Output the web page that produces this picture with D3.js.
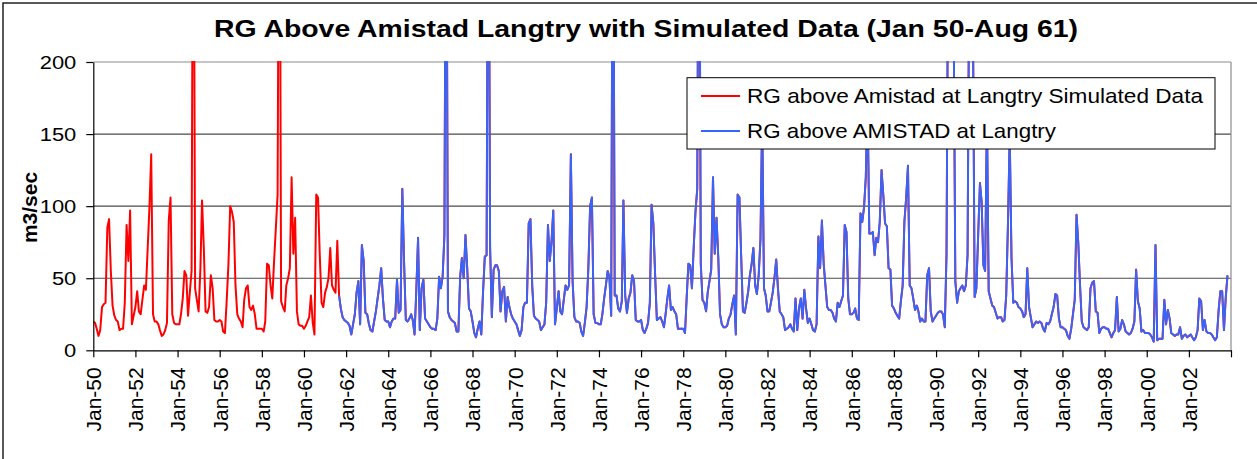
<!DOCTYPE html>
<html>
<head>
<meta charset="utf-8">
<script src="https://cdn.jsdelivr.net/npm/d3@7"></script>
<style>
    body { margin: 0; background: #fff; }
    svg { font-family: "Liberation Sans", Arial, sans-serif; }
</style>
</head>
<body>
<svg width="1257" height="459"></svg>
<script>
// monthly flows, m3/sec. simulated: Jan 1950 - Aug 1961
const simulated = [
    20,19,15,10,14,30,32,33,85,91,55,31,
    24,21,20,14,15,15,33,87,62,97,18,24,
    30,41,27,25,35,45,42,71,100,136,25,20,
    20,18,14,10,11,14,19,90,106,25,19,18,
    18,18,25,36,55,52,24,40,55,420,43,35,
    27,57,104,71,27,26,30,52,43,21,20,20,
    21,20,13,12,34,60,100,96,89,45,25,22,
    20,16,35,43,45,30,28,31,25,15,15,15,
    15,13,20,60,59,45,36,62,85,108,420,34,
    30,27,45,50,57,120,67,92,27,18,17,17,
    15,17,20,23,38,19,11,108,106,66,33,30,
    40,44,50,71,45,42,40,76
];
// observed: Sep 1961 - Nov 2003
const observed = [
    38,29,23,21,
    20,19,17,11,18,25,40,48,18,73,62,26,
    25,18,14,13,20,27,36,45,57,36,21,20,
    20,16,20,22,22,49,26,28,112,62,21,20,
    22,25,21,11,41,78,14,43,49,22,20,18,
    16,15,15,14,22,51,43,51,80,400,27,23,
    21,20,19,13,13,51,64,50,80,57,29,27,
    20,12,9,15,20,11,40,65,66,400,71,23,
    56,59,59,55,27,41,44,20,37,30,25,22,
    20,18,14,10,14,30,33,33,88,91,45,24,
    22,21,20,14,16,18,33,87,62,75,97,18,
    29,41,27,25,35,45,42,45,136,48,23,20,
    20,19,13,10,19,30,57,100,106,25,19,19,
    18,18,25,36,45,55,51,24,400,38,38,29,
    27,34,104,38,26,36,40,52,48,21,20,20,
    21,14,12,15,19,33,101,88,52,21,22,23,
    20,16,25,36,45,28,30,27,25,15,15,15,
    15,12,36,60,59,43,71,96,112,400,60,35,
    33,27,40,48,56,120,67,92,64,25,18,16,
    16,17,22,25,32,38,11,108,106,66,27,26,
    33,41,52,60,71,45,39,52,77,165,43,38,
    27,27,33,40,50,63,43,27,25,23,14,15,
    16,18,15,13,36,14,29,36,22,42,29,19,
    22,18,14,13,18,79,57,90,60,45,30,28,
    28,26,22,20,33,30,34,38,87,82,36,25,
    25,26,29,22,21,95,89,99,120,175,81,81,
    82,66,78,75,89,125,108,88,86,57,56,31,
    29,26,24,22,34,45,89,106,128,45,43,36,
    28,31,27,20,22,20,20,52,57,27,20,22,
    24,26,27,27,25,16,66,300,260,280,240,48,
    33,41,43,45,41,45,66,280,300,240,37,43,
    80,116,103,59,55,165,41,36,31,30,26,22,
    23,23,20,21,38,89,150,64,33,34,33,30,
    29,27,23,25,57,30,23,16,18,20,19,20,
    19,15,13,19,18,20,25,30,39,38,22,16,
    16,15,14,10,8,15,25,35,94,75,45,20,
    16,15,14,16,43,47,48,27,26,12,15,16,
    16,15,15,12,9,12,14,37,13,15,21,18,
    13,12,11,12,15,20,56,34,29,13,14,12,
    12,12,11,9,6,73,7,8,8,8,35,18,
    28,22,12,11,10,11,11,16,8,10,11,9,
    10,11,9,7,9,14,36,34,14,21,13,12,
    12,11,9,7,9,28,41,41,14,36,52
];
const yTicks = [0, 50, 100, 150, 200];
const tickYears = [1950,1952,1954,1956,1958,1960,1962,1964,1966,1968,1970,1972,1974,
                   1976,1978,1980,1982,1984,1986,1988,1990,1992,1994,1996,1998,2000,2002,2004];
const seriesNames = ["RG above Amistad at Langtry Simulated Data", "RG above AMISTAD at Langtry"];
const seriesColors = ["#ff0000", "#3366ff"];

var svg = d3.select("svg");
var plotLeft = 93.3, plotRight = 1231, plotTop = 62, plotBottom = 350.3;

// chart border
svg.append("rect").attr("x", 3).attr("y", 3).attr("width", 1270).attr("height", 480)
    .attr("fill", "#fff").attr("stroke", "#222").attr("stroke-width", 1.5);

var x = d3.scaleTime().domain([new Date(1950, 0, 1), new Date(2004, 0, 1)]).range([plotLeft, plotRight]);
var y = d3.scaleLinear().domain([0, 200]).range([plotBottom, plotTop]);

// gridlines
svg.append("g").selectAll("line")
    .data(yTicks.filter(d => d > 0)).enter().append("line")
    .attr("x1", plotLeft).attr("x2", plotRight)
    .attr("y1", d => y(d)).attr("y2", d => y(d))
    .attr("stroke", d => d == 200 ? "#8c8c8c" : "#4a4a4a").attr("stroke-width", 1.2);
svg.append("line").attr("x1", plotRight).attr("x2", plotRight).attr("y1", plotTop).attr("y2", plotBottom)
    .attr("stroke", "#8c8c8c").attr("stroke-width", 1.2);

// lines
svg.append("clipPath").attr("id", "plot").append("rect")
    .attr("x", plotLeft).attr("y", plotTop - 1)
    .attr("width", plotRight - plotLeft).attr("height", plotBottom - plotTop + 2);

var simAll = simulated.concat(observed);
var line = d3.line().x(d => x(d.date)).y(d => y(d.v));
var redPts = simAll.map((v, i) => ({date: new Date(1950, i, 1), v: v}));
var bluePts = observed.map((v, i) => ({date: new Date(1950, simulated.length + i, 1), v: v}));

var g = svg.append("g").attr("clip-path", "url(#plot)");
g.append("path").datum(redPts).attr("d", line)
    .attr("fill", "none").attr("stroke", seriesColors[0]).attr("stroke-width", 2)
    .attr("stroke-linejoin", "round");
g.append("path").datum(bluePts).attr("d", line)
    .attr("fill", "none").attr("stroke", seriesColors[1]).attr("stroke-width", 1.9)
    .attr("stroke-linejoin", "round");

// x axis
var xAxis = svg.append("g").attr("transform", "translate(0," + plotBottom + ")")
    .call(d3.axisBottom(x)
        .tickValues(tickYears.map(yr => new Date(yr, 0, 1)))
        .tickSize(7).tickSizeOuter(0)
        .tickFormat(d => d.getFullYear() == 2004 ? "" : d3.timeFormat("%b-%y")(d)));
xAxis.select(".domain").attr("stroke", "#000").attr("stroke-width", 1.2);
xAxis.selectAll(".tick line").attr("stroke", "#000").attr("stroke-width", 1.2);
xAxis.selectAll("text")
    .attr("transform", "rotate(-90)")
    .attr("text-anchor", "end")
    .attr("x", -17).attr("y", 0).attr("dy", "0.35em")
    .style("font-size", "21px").style("font-family", "Liberation Sans, Arial, sans-serif")
    .attr("fill", "#000");

// y axis
var yAxis = svg.append("g").attr("transform", "translate(" + plotLeft + ",0)")
    .call(d3.axisLeft(y).tickValues(yTicks).tickSize(7).tickSizeOuter(0).tickPadding(10));
yAxis.select(".domain").attr("stroke", "#000").attr("stroke-width", 1.2);
yAxis.selectAll(".tick line").attr("stroke", "#000").attr("stroke-width", 1.2);
yAxis.selectAll("text")
    .style("font-size", "19px").style("font-family", "Liberation Sans, Arial, sans-serif")
    .attr("fill", "#000")
    .attr("textLength", d => String(d).length * 12.2)
    .attr("lengthAdjust", "spacingAndGlyphs");

// title
svg.append("text").attr("x", 646).attr("y", 36.7)
    .attr("text-anchor", "middle")
    .style("font-size", "24px").style("font-weight", "bold")
    .attr("textLength", 864).attr("lengthAdjust", "spacingAndGlyphs")
    .text("RG Above Amistad Langtry with Simulated Data (Jan 50-Aug 61)");

// y label
svg.append("text")
    .attr("transform", "translate(37,207.5) rotate(-90)")
    .attr("text-anchor", "middle")
    .style("font-size", "21px").style("font-weight", "bold")
    .text("m3/sec");

// legend
var lg = svg.append("g");
lg.append("rect").attr("x", 687).attr("y", 77.7).attr("width", 528).attr("height", 71.3)
    .attr("fill", "#fff").attr("stroke", "#000").attr("stroke-width", 1);
var rowY = [96, 131], textLen = [456, 309];
seriesNames.forEach(function(name, i) {
    lg.append("line").attr("x1", 701).attr("x2", 740).attr("y1", rowY[i]).attr("y2", rowY[i])
        .attr("stroke", seriesColors[i]).attr("stroke-width", 2);
    lg.append("text").attr("x", 747).attr("y", rowY[i] + 7.3)
        .style("font-size", "21px")
        .attr("textLength", textLen[i]).attr("lengthAdjust", "spacingAndGlyphs")
        .text(name);
});
</script>
</body>
</html>
